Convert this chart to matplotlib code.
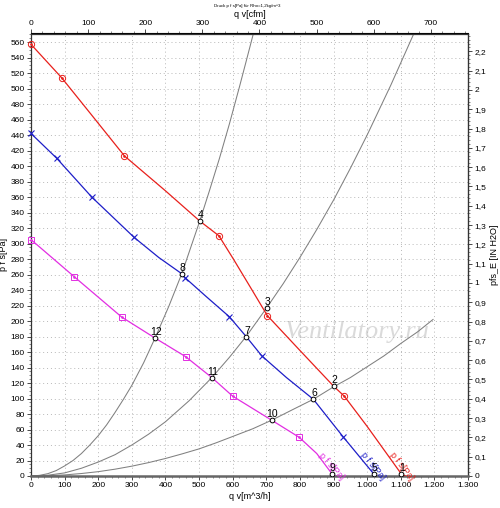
import numpy as np
import matplotlib
matplotlib.use("Agg")
import matplotlib.pyplot as plt
from matplotlib.ticker import MultipleLocator, FixedLocator, FuncFormatter

plt.rcParams['font.family'] = ['Liberation Sans', 'DejaVu Sans']

# fan curves p_fs [Pa] over q_v [m^3/h]
red_q = [0, 91, 180, 278, 400, 502, 559, 602, 652, 703, 800, 900, 932, 1000, 1101, 1113]
red_p = [557, 514, 466, 413, 368, 329, 310, 280, 244, 207, 162, 116, 103, 64, 3, 0]
blue_q = [0, 76.5, 180.6, 306.5, 380, 448.5, 458, 520, 590, 640, 686.6, 760, 840, 929.5, 1019, 1025]
blue_p = [442, 410, 360, 308, 282, 261, 256, 232, 205.5, 180, 155, 127, 99, 50, 3, 0]
mag_q = [0, 129, 270, 369, 460, 538, 600, 716, 797.6, 850, 895, 905]
mag_p = [305, 257, 205, 178, 154, 127, 103, 72, 50, 29, 3, 0]

# marker positions on each fan curve
red_mq = [0, 91, 278, 559, 703, 932]
red_mp = [557, 514, 413, 310, 207, 103]
blue_mq = [0, 76.5, 180.6, 306.5, 458, 590, 686.6, 929.5]
blue_mp = [442, 410, 360, 308, 256, 205.5, 155, 50]
mag_mq = [0, 129, 270, 460, 600, 797.6]
mag_mp = [305, 257, 205, 154, 103, 50]

# system curves (gray)
sysA_q = [0, 25, 50, 75, 100, 125, 150, 175, 200, 225, 250, 275, 300, 335, 369, 410,
          448.5, 502, 530, 560, 590, 620, 640, 661]
sysA_p = [0, 0.8, 3, 7, 13, 20, 29, 40, 52, 66, 82, 99, 117, 146, 178, 219,
          261, 329, 367, 409, 454, 502, 535, 570]
sysB_q = [0, 50, 100, 150, 200, 250, 300, 350, 400, 470, 538, 590, 640, 701, 750, 800,
          850, 900, 950, 1000, 1070, 1138]
sysB_p = [0, 1, 4, 10, 18, 27.5, 40, 54, 70, 97, 127, 153, 180, 217, 248, 282,
          318, 356, 397, 440, 504, 570]
sysC_q = [0, 50, 100, 150, 200, 250, 300, 350, 400, 450, 500, 550, 600, 660, 716, 780,
          840, 900, 950, 1000, 1050, 1100, 1150, 1196]
sysC_p = [0, 0.4, 1.4, 3.2, 5.6, 8.8, 12.7, 17.3, 22.6, 28.6, 35, 42.7, 51, 61, 72, 86,
          99, 115, 127, 141, 155, 171, 186, 202]

# numbered operating points
op_q = [1101, 900, 701, 502, 1019, 840, 640, 448.5, 895, 716, 538, 369]
op_p = [3, 116, 217, 329, 3, 99, 180, 261, 3, 72, 127, 178]
op_lbl = [str(i) for i in range(1, 13)]

x_ticks = list(range(0, 1301, 100))
y_ticks = list(range(0, 561, 20))
cfm_ticks = list(range(0, 701, 100))
inh2o_ticks = [i / 10 for i in range(0, 23)]

RED = '#e8201c'
BLUE = '#1e1ec8'
MAG = '#e22ee2'
GRAY = '#808080'

fig = plt.figure(figsize=(5.0, 5.08), dpi=100)
ax = fig.add_axes([31 / 500, (508 - 476) / 508, 437 / 500, (476 - 33.5) / 508])
ax.set_xlim(0, 1300)
ax.set_ylim(0, 571)

ax.set_xticks(x_ticks)
ax.set_yticks(y_ticks)
ax.xaxis.set_minor_locator(MultipleLocator(20))
ax.yaxis.set_minor_locator(MultipleLocator(5))
ax.xaxis.set_major_formatter(FuncFormatter(lambda v, p: f"{int(v):,}".replace(',', '.')))
ax.grid(True, which='major', color='#b8b8b8', linestyle=(0, (1, 3)), linewidth=0.7)
ax.tick_params(which='both', direction='out', labelsize=6, pad=1.5, width=0.5)
ax.tick_params(which='major', length=3)
ax.tick_params(which='minor', length=1.5, color='#555555')
for s in ax.spines.values():
    s.set_linewidth(0.9)
    s.set_color('#333333')
ax.spines['bottom'].set_linewidth(1.8)
ax.spines['bottom'].set_color('#666666')

# watermark
ax.text(0.745, 0.325, 'Ventilatory.ru', transform=ax.transAxes, ha='center', va='center',
        fontsize=19, style='italic', family='Liberation Serif', color='#dadada', zorder=1)

for q, p in [(sysA_q, sysA_p), (sysB_q, sysB_p), (sysC_q, sysC_p)]:
    ax.plot(q, p, color=GRAY, lw=0.75, zorder=2)

ax.plot(red_q, red_p, color=RED, lw=0.9, zorder=3)
ax.plot(blue_q, blue_p, color=BLUE, lw=0.9, zorder=3)
ax.plot(mag_q, mag_p, color=MAG, lw=0.9, zorder=3)

ax.plot(red_mq, red_mp, 'o', ms=4.5, mfc='none', mec=RED, mew=0.7, zorder=4, clip_on=False)
ax.plot(red_mq, red_mp, '.', ms=1.8, color=RED, zorder=4, clip_on=False)
ax.plot(blue_mq, blue_mp, 'x', ms=5, color=BLUE, mew=0.8, zorder=4, clip_on=False)
ax.plot(mag_mq, mag_mp, 's', ms=4.3, mfc='none', mec=MAG, mew=0.7, zorder=4, clip_on=False)
ax.plot(mag_mq, mag_mp, '.', ms=1.8, color=MAG, zorder=4, clip_on=False)

# curve labels along the line ends
ax.text(1103, 13, 'p f s[Pa]', color=RED, fontsize=6.5, rotation=-52,
        ha='center', va='center', zorder=4)
ax.text(1016, 13, 'p f s[Pa]', color=BLUE, fontsize=6.5, rotation=-51,
        ha='center', va='center', zorder=4)
ax.text(895, 13, 'p f s[Pa]', color=MAG, fontsize=6.5, rotation=-48,
        ha='center', va='center', zorder=4)

ax.plot(op_q, op_p, 'o', ms=3.4, mfc='white', mec='black', mew=0.7, zorder=5)
for q, p, t in zip(op_q, op_p, op_lbl):
    ax.annotate(t, (q, p), xytext=(0.5, 0.6), textcoords='offset points',
                ha='center', va='bottom', fontsize=7.5, zorder=6)

ax.set_xlabel('q v[m^3/h]', fontsize=6.5, labelpad=2)
ax.set_ylabel('p f s[Pa]', fontsize=6.5, labelpad=2)

top = ax.secondary_xaxis('top', functions=(lambda q: q / 1.699, lambda c: c * 1.699))
top.set_xticks(cfm_ticks)
top.xaxis.set_minor_locator(MultipleLocator(20))
top.tick_params(which='both', direction='out', labelsize=6, pad=1.5, width=0.5)
top.tick_params(which='major', length=3)
top.tick_params(which='minor', length=1.5, color='#555555')
top.set_xlabel('q v[cfm]', fontsize=6.5, labelpad=2)

right = ax.secondary_yaxis('right', functions=(lambda p: p / 249.09, lambda w: w * 249.09))
right.yaxis.set_major_locator(FixedLocator(inh2o_ticks))
right.yaxis.set_minor_locator(MultipleLocator(0.02))
right.yaxis.set_major_formatter(FuncFormatter(
    lambda v, p: f"{v:.1f}".rstrip('0').rstrip('.').replace('.', ',')))
right.tick_params(which='both', direction='out', labelsize=6, pad=1.5, width=0.5)
right.tick_params(which='major', length=3)
right.tick_params(which='minor', length=1.5, color='#555555')
right.set_ylabel('pfs_E [IN H2O]', fontsize=6.5, labelpad=3)

fig.text(0.495, 1 - 6 / 508, 'Druck p f s[Pa] für Rho=1,2kg/m^3', fontsize=3.2,
         ha='center', va='center')

fig.savefig('out.png', dpi=100)
